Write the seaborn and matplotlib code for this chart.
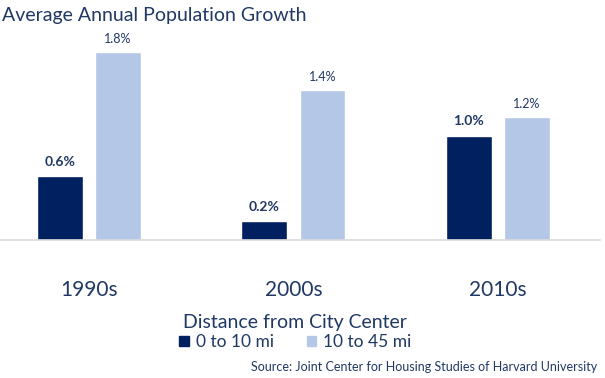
import numpy as np
import pandas as pd
import seaborn as sns
import matplotlib.pyplot as plt
from matplotlib.patches import Patch

decades = ['1990s', '2000s', '2010s']
near = [0.61, 0.18, 1.00]      # 0 to 10 mi
far = [1.80, 1.44, 1.18]       # 10 to 45 mi
near_labels = ['0.6%', '0.2%', '1.0%']
far_labels = ['1.8%', '1.4%', '1.2%']
groups = ['0 to 10 mi', '10 to 45 mi']

navy = '#002060'
light = '#B4C7E7'
txt = '#1F3864'

df = pd.DataFrame({
    'decade': decades * 2,
    'growth': near + far,
    'dist': [groups[0]] * 3 + [groups[1]] * 3,
})

sns.set_style('white')
plt.rcParams['font.family'] = ['Lato', 'DejaVu Sans']

fig = plt.figure(figsize=(6.05, 3.78), dpi=100)
ax = fig.add_axes([0, 1 - 240 / 378, 600 / 605, 209 / 378])

sns.barplot(data=df, x='decade', y='growth', hue='dist', order=decades,
            hue_order=groups, palette=[navy, light], width=0.568, gap=0.21,
            saturation=1, ax=ax, legend=False)

ax.set_xlim(-0.435, 2.499)
ax.set_ylim(0, 2.0)
ax.set_xlabel('')
ax.set_ylabel('')
ax.set_yticks([])
for s in ['top', 'right', 'left']:
    ax.spines[s].set_visible(False)
ax.spines['bottom'].set_color('#D9D9D9')
ax.spines['bottom'].set_linewidth(1.2)
ax.tick_params(axis='x', length=0, pad=29, labelsize=15, labelcolor=txt)

ax.bar_label(ax.containers[0], labels=near_labels, padding=6, fontsize=10,
             fontweight='bold', color=txt)
ax.bar_label(ax.containers[1], labels=far_labels, padding=5, fontsize=9,
             color=txt)

fig.text(0.004, 0.958, 'Average Annual Population Growth', fontsize=14,
         color=txt, va='center', ha='left')

handles = [Patch(color=navy), Patch(color=light)]
leg = fig.legend(handles, groups, title='Distance from City Center', ncol=2,
                 loc='center', bbox_to_anchor=(0.488, 0.122), frameon=False,
                 fontsize=12.5, title_fontsize=14, handlelength=0.55,
                 handleheight=0.55, handletextpad=0.4, columnspacing=1.9,
                 borderpad=0, labelspacing=0.2)
for t in leg.get_texts():
    t.set_color(txt)
leg.get_title().set_color(txt)

fig.text(0.988, 0.028, 'Source: Joint Center for Housing Studies of Harvard University',
         fontsize=9, color=txt, ha='right', va='center')

fig.savefig('out.png', dpi=100)
